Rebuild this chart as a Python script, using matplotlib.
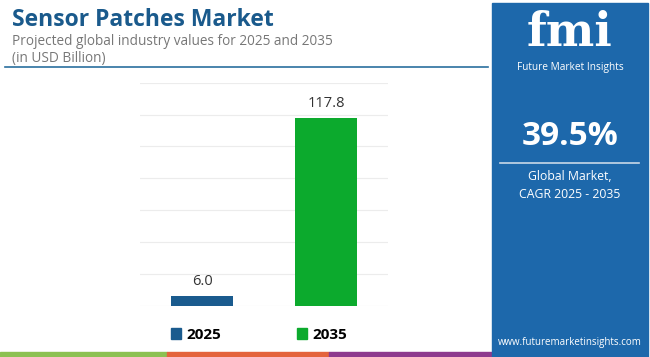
import matplotlib.pyplot as plt
from matplotlib.patches import Rectangle, Patch
from matplotlib.lines import Line2D

years = ["2025", "2035"]
values = [6.0, 117.8]
bar_colors = ["#1a5b8e", "#0caa2d"]
yticks = [0, 20, 40, 60, 80, 100, 120, 140]

title = "Sensor Patches Market"
subtitle = "Projected global industry values for 2025 and 2035"
unit = "(in USD Billion)"
cagr = "39.5%"
cagr_lines = "Global Market,\nCAGR 2025 - 2035"
url = "www.futuremarketinsights.com"

plt.rcParams['font.family'] = ['Open Sans', 'DejaVu Sans']

fig = plt.figure(figsize=(6.5, 3.57), dpi=100)
fig.patch.set_facecolor('white')

# main chart
ax = fig.add_axes([0.2154, 0.1437, 0.3815, 0.6246])
x = range(len(years))
bars = ax.bar(x, values, width=0.5, color=bar_colors, zorder=3)
ax.set_xlim(-0.5, 1.5)
ax.set_ylim(0, 140)
ax.set_yticks(yticks)
ax.grid(axis='y', color='#ececec', linewidth=0.8, zorder=0)
ax.set_xticks([])
ax.tick_params(left=False, labelleft=False)
for s in ax.spines.values():
    s.set_visible(False)
for b, v in zip(bars, values):
    ax.annotate(f"{v:.1f}", (b.get_x() + b.get_width() / 2, v),
                xytext=(0, 5), textcoords='offset points',
                ha='center', va='bottom', fontsize=10.5, color='#333333')

handles = [Patch(color=c, label=y) for c, y in zip(bar_colors, years)]
leg = ax.legend(handles=handles, ncol=2, loc='center', bbox_to_anchor=(0.48, -0.131),
                frameon=False, handlelength=0.65, handleheight=0.65,
                handletextpad=0.35, columnspacing=5.0,
                prop={'weight': 'bold', 'size': 11})

# header
fig.text(0.018, 0.945, title, fontsize=16.5, fontweight='bold', color='#1a5a8c',
         va='center', ha='left')
fig.text(0.018, 0.885, subtitle, fontsize=9.8, color='#777777', va='center', ha='left')
fig.text(0.018, 0.835, unit, fontsize=9.8, color='#777777', va='center', ha='left')
fig.add_artist(Line2D([0.008, 0.750], [0.811, 0.811], color='#2a6f9e', linewidth=1.2))

# bottom stripes
stripe_colors = ['#8cc152', '#e4643c', '#8e3a8e']
stripe_edges = [0, 167, 329, 492]
for i, c in enumerate(stripe_colors):
    fig.add_artist(Rectangle((stripe_edges[i] / 650, 0), (stripe_edges[i + 1] - stripe_edges[i]) / 650,
                             5 / 357, color=c, transform=fig.transFigure, zorder=1))

# right panel
panel_left = 492 / 650
panel_right = 648 / 650
fig.add_artist(Rectangle((panel_left, 0), panel_right - panel_left, 354 / 357,
                         color='#1d68ab', transform=fig.transFigure, zorder=1))
cx = (panel_left + panel_right) / 2
fig.text(cx, 0.87, "fmi", fontsize=33, fontweight='bold', color='white',
         family=['DejaVu Serif'], ha='center', va='baseline')
fig.text(cx, 0.812, "Future Market Insights", fontsize=7.3, color='white',
         ha='center', va='center')
fig.text(cx, 0.617, cagr, fontsize=24, fontweight='bold', color='white',
         ha='center', va='center')
fig.add_artist(Line2D([500 / 650, 639 / 650], [0.543, 0.543], color='#c8d8e8', linewidth=1.2))
fig.text(cx, 0.48, cagr_lines, fontsize=8.8, color='white', ha='center', va='center',
         linespacing=1.5)
fig.text(cx, 0.042, url, fontsize=7, color='white', ha='center', va='center')

fig.savefig('out.png', dpi=100, facecolor='white')
